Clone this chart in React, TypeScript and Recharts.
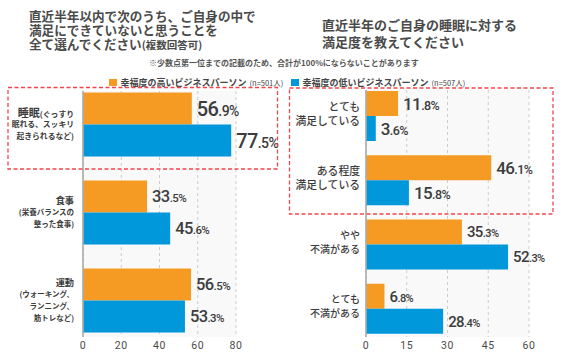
import React from 'react';
import { BarChart, Bar, XAxis, YAxis, CartesianGrid, LabelList } from 'recharts';

// ---------- data ----------
const leftCategories = ['睡眠', '食事', '運動'];
const leftLabelLines = [
  ['睡眠(ぐっすり', '眠れる、スッキリ', '起きられるなど)'],
  ['食事', '(栄養バランスの', '整った食事)'],
  ['運動', '(ウォーキング、', 'ランニング、', '筋トレなど)'],
];
const leftHigh = [56.9, 33.5, 56.5];
const leftLow = [77.5, 45.6, 53.3];
const leftTicks = [0, 20, 40, 60, 80];
const leftHighlighted = ['睡眠'];

const rightCategories = ['とても満足している', 'ある程度満足している', 'やや不満がある', 'とても不満がある'];
const rightLabelLines = [
  ['とても', '満足している'],
  ['ある程度', '満足している'],
  ['やや', '不満がある'],
  ['とても', '不満がある'],
];
const rightHigh = [11.8, 46.1, 35.3, 6.8];
const rightLow = [3.6, 15.8, 52.3, 28.4];
const rightTicks = [0, 15, 30, 45, 60];
const rightHighlighted = ['とても満足している', 'ある程度満足している'];

const seriesNames = ['幸福度の高いビジネスパーソン', '幸福度の低いビジネスパーソン'];
const seriesCounts = ['(n=501人)', '(n=507人)'];
const leftTitle = ['直近半年以内で次のうち、ご自身の中で', '満足にできていないと思うことを', '全て選んでください'];
const leftTitleNote = '(複数回答可)';
const rightTitle = ['直近半年のご自身の睡眠に対する', '満足度を教えてください'];
const footNote = '※少数点第一位までの記載のため、合計が100%にならないことがあります';

const leftData = leftCategories.map((name, i) => ({ name, high: leftHigh[i], low: leftLow[i] }));
const rightData = rightCategories.map((name, i) => ({ name, high: rightHigh[i], low: rightLow[i] }));

// ---------- styles ----------
const ORANGE = '#F59B23';
const BLUE = '#0097DB';
const TEXT = '#3c3c3c';
const JP = '"Noto Sans CJK JP", "Noto Sans", sans-serif';
const NUM = 'Roboto, "Noto Sans", sans-serif';

const makeValueLabel = (categories: string[], highlighted: string[], big: number[], small: number[]) =>
  (props: any) => {
    const vb = props.viewBox || {};
    const x = vb.x ?? props.x;
    const y = vb.y ?? props.y;
    const w = vb.width ?? props.width;
    const h = vb.height ?? props.height;
    const idx = props.index ?? 0;
    const hl = highlighted.includes(categories[idx]);
    const v = Number(props.value);
    const [ip, dp] = v.toFixed(1).split('.');
    const b = hl ? big[0] : big[1];
    const s = hl ? small[0] : small[1];
    return (
      <text x={x + w + 5} y={y + h / 2 + b * 0.36} fill={TEXT} fontFamily={NUM} fontWeight={500} letterSpacing={-0.6}>
        <tspan fontSize={b}>{ip}</tspan>
        <tspan fontSize={s}>.{dp}%</tspan>
      </text>
    );
  };

const LeftTick = (props: any) => {
  const { x, y, payload } = props;
  const idx = leftCategories.indexOf(payload.value);
  const lines = leftLabelLines[idx] || [];
  const hl = leftHighlighted.includes(payload.value);
  const mainSize = hl ? 11 : 9.2;
  const subSize = hl ? 7.8 : 7.5;
  const pitch = hl ? 11.7 : 11.8;
  const n = lines.length;
  return (
    <g>
      {lines.map((line, i) => {
        const cy = y + (i - (n - 1) / 2) * pitch;
        const starts = line.startsWith(payload.value);
        return (
          <text key={i} x={x} y={cy + subSize * 0.36} textAnchor="end" fill={TEXT} fontFamily={JP} fontWeight={700}>
            {starts ? (
              <>
                <tspan fontSize={mainSize} dy={(mainSize - subSize) * 0.3}>{payload.value}</tspan>
                <tspan fontSize={subSize}>{line.slice(payload.value.length)}</tspan>
              </>
            ) : (
              <tspan fontSize={subSize}>{line}</tspan>
            )}
          </text>
        );
      })}
    </g>
  );
};

const RightTick = (props: any) => {
  const { x, y, payload } = props;
  const idx = rightCategories.indexOf(payload.value);
  const lines = rightLabelLines[idx] || [];
  const hl = rightHighlighted.includes(payload.value);
  const size = hl ? 10.8 : 10;
  const pitch = 14;
  const n = lines.length;
  return (
    <g>
      {lines.map((line, i) => {
        const cy = y - 2 + (i - (n - 1) / 2) * pitch;
        return (
          <text key={i} x={x} y={cy + size * 0.36} textAnchor="end" fill={TEXT} fontFamily={JP} fontWeight={500} fontSize={size}>
            {line}
          </text>
        );
      })}
    </g>
  );
};

const xTick = { fontSize: 10.5, fill: '#4a4a4a', fontFamily: NUM, letterSpacing: 0.5 };

const titleLine = (left: number, top: number, size: number): React.CSSProperties => ({
  position: 'absolute', left, top, fontSize: size, lineHeight: `${size}px`, height: size,
  fontWeight: 700, color: '#4a4a4a', whiteSpace: 'nowrap',
});

export default function App() {
  return (
    <div style={{ position: 'absolute', left: 0, top: 0, width: 570, height: 358, background: '#fff', overflow: 'hidden', fontFamily: JP, color: TEXT }}>
      {/* titles */}
      <div style={titleLine(29, 10, 12.6)}>{leftTitle[0]}</div>
      <div style={titleLine(29, 24.2, 12.6)}>{leftTitle[1]}</div>
      <div style={titleLine(29, 38.4, 12.6)}>{leftTitle[2]}<span style={{ fontSize: 10.5 }}>{leftTitleNote}</span></div>
      <div style={titleLine(322, 18, 13)}>{rightTitle[0]}</div>
      <div style={titleLine(322, 34.5, 13)}>{rightTitle[1]}</div>
      <div style={{ position: 'absolute', left: 149, top: 58, fontSize: 8, lineHeight: '9px', fontWeight: 700, color: '#555', whiteSpace: 'nowrap' }}>
        {footNote}
      </div>
      {/* legend */}
      <div style={{ position: 'absolute', left: 109, top: 76, display: 'flex', alignItems: 'center', whiteSpace: 'nowrap', fontSize: 9, fontWeight: 700, color: '#444' }}>
        <span style={{ display: 'inline-block', width: 7.5, height: 7.5, background: ORANGE, marginRight: 4 }} />
        <span>{seriesNames[0]}</span>
        <span style={{ fontSize: 7.5, fontWeight: 400, marginLeft: 3 }}>{seriesCounts[0]}</span>
      </div>
      <div style={{ position: 'absolute', left: 291, top: 76, display: 'flex', alignItems: 'center', whiteSpace: 'nowrap', fontSize: 9, fontWeight: 700, color: '#444' }}>
        <span style={{ display: 'inline-block', width: 7.5, height: 7.5, background: BLUE, marginRight: 4 }} />
        <span>{seriesNames[1]}</span>
        <span style={{ fontSize: 7.5, fontWeight: 400, marginLeft: 3 }}>{seriesCounts[1]}</span>
      </div>

      {/* left chart */}
      <div style={{ position: 'absolute', left: 0, top: 0 }}>
        <BarChart width={285} height={358} layout="vertical" data={leftData} barGap={0}
          margin={{ top: 91, right: 49, bottom: 0, left: 8 }}>
          <CartesianGrid horizontal={false} stroke="#cdcdcd" strokeDasharray="3 3" fill="#f9f9f9" />
          <XAxis type="number" domain={[0, 80]} ticks={leftTicks} axisLine={false} tickLine={false}
            tickSize={0} tickMargin={5} height={21} tick={xTick} interval={0} />
          <YAxis type="category" dataKey="name" width={75} axisLine={{ stroke: '#ababab', strokeWidth: 1.6 }}
            tickLine={false} tickSize={0} tickMargin={9} tick={<LeftTick />} padding={{ top: -10.5, bottom: -7.5 }} interval={0} />
          <Bar dataKey="high" fill={ORANGE} barSize={32} isAnimationActive={false}>
            <LabelList dataKey="high" content={makeValueLabel(leftCategories, leftHighlighted, [20, 16.5], [14, 11.5])} />
          </Bar>
          <Bar dataKey="low" fill={BLUE} barSize={32} isAnimationActive={false}>
            <LabelList dataKey="low" content={makeValueLabel(leftCategories, leftHighlighted, [20, 16.5], [14, 11.5])} />
          </Bar>
        </BarChart>
      </div>

      {/* right chart */}
      <div style={{ position: 'absolute', left: 285, top: 0 }}>
        <BarChart width={285} height={358} layout="vertical" data={rightData} barGap={0}
          margin={{ top: 90, right: 41, bottom: 0, left: 5 }}>
          <CartesianGrid horizontal={false} stroke="#cdcdcd" strokeDasharray="3 3" fill="#f9f9f9" />
          <XAxis type="number" domain={[0, 60]} ticks={rightTicks} axisLine={false} tickLine={false}
            tickSize={0} tickMargin={5} height={21} tick={xTick} interval={0} />
          <YAxis type="category" dataKey="name" width={76} axisLine={{ stroke: '#ababab', strokeWidth: 1.6 }}
            tickLine={false} tickSize={0} tickMargin={6} tick={<RightTick />} padding={{ top: -6, bottom: -4 }} interval={0} />
          <Bar dataKey="high" fill={ORANGE} barSize={25} isAnimationActive={false}>
            <LabelList dataKey="high" content={makeValueLabel(rightCategories, rightHighlighted, [17, 15], [12.5, 11])} />
          </Bar>
          <Bar dataKey="low" fill={BLUE} barSize={25} isAnimationActive={false}>
            <LabelList dataKey="low" content={makeValueLabel(rightCategories, rightHighlighted, [17, 15], [12.5, 11])} />
          </Bar>
        </BarChart>
      </div>

      {/* highlight boxes */}
      <svg width={570} height={358} style={{ position: 'absolute', left: 0, top: 0, pointerEvents: 'none' }}>
        <rect x={8} y={87.5} width={269.5} height={81.5} fill="none" stroke="#F2454B" strokeWidth={1.3} strokeDasharray="4 2.5" />
        <rect x={289.5} y={88} width={263.5} height={126} fill="none" stroke="#F2454B" strokeWidth={1.3} strokeDasharray="4 2.5" />
      </svg>
    </div>
  );
}
